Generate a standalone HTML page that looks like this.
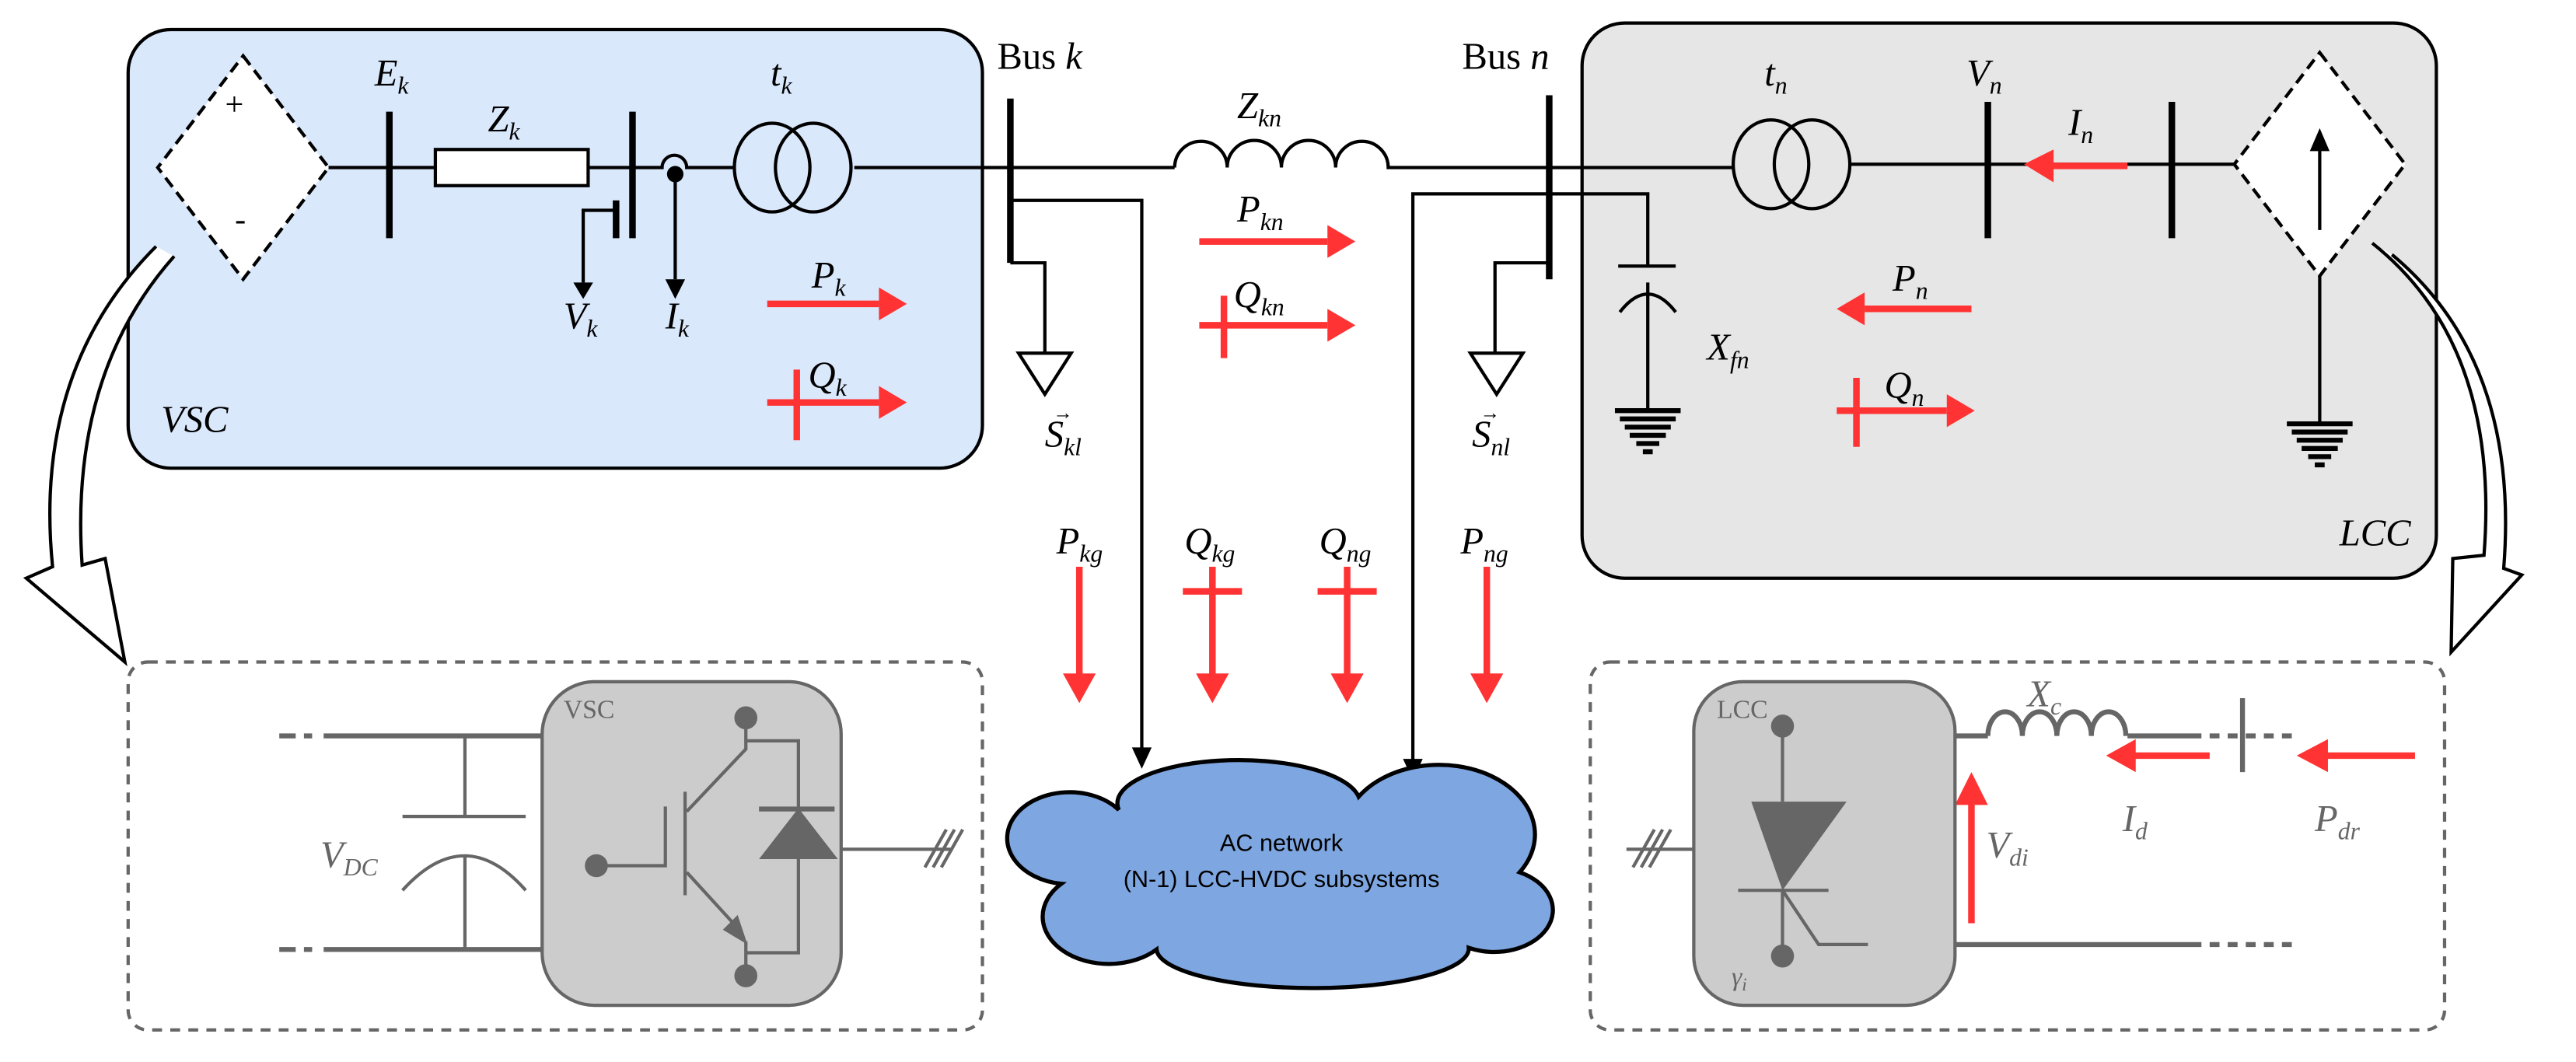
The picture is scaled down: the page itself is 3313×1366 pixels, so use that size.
<!DOCTYPE html>
<html><head><meta charset="utf-8"><style>
html,body{margin:0;padding:0;background:#fff;}
svg{display:block;}
.m{font-family:"Liberation Serif",serif;font-style:italic;font-size:23px;}
.s{font-size:15px;}
</style></head><body>
<svg width="3313" height="1366" viewBox="0 0 1568 646.5" xmlns="http://www.w3.org/2000/svg">
<g fill="none" stroke="#000" stroke-width="2">
<rect x="78" y="18" width="520" height="267" rx="26" fill="#dae8fc"/>
<rect x="963" y="14" width="520" height="338" rx="26" fill="#e6e6e6"/>
<path d="M148,34 L200,102 L148,170 L96,102Z" fill="#fff" stroke-dasharray="7,4"/>
<path d="M200,102 H265 M358,102 H403 A7,7 0 0 1 418,102 H447 M520,102 H715"/>
<path d="M715,102 a16,16 0 0 1 32,0 a16,16 0 0 1 33,0 a16,16 0 0 1 33,0 a16,16 0 0 1 32,0 H1055"/>
<path d="M1126,100 H1210 H1360"/>
<rect x="265" y="91" width="93" height="22" fill="#fff"/>
<ellipse cx="470" cy="102" rx="23" ry="27"/><ellipse cx="495" cy="102" rx="23" ry="27"/>
<ellipse cx="1078" cy="100" rx="23" ry="27"/><ellipse cx="1103" cy="100" rx="23" ry="27"/>
</g>
<g stroke="#000" stroke-width="4" fill="none">
<path d="M237,68V145 M385,68V145 M375,122V145 M615,60V160 M943,58V170 M1210,62V145 M1322,62V145"/>
</g>
<g fill="none" stroke="#000" stroke-width="2">
<path d="M375,128 H355 V172"/><path d="M411,106 V170"/>
<path d="M615,122 H695 V458"/><path d="M615,160 H636 V215"/>
<path d="M943,118 H860 V465"/><path d="M943,160 H910 V215"/>
<path d="M943,118 H1003 V162 M985,162 H1020 M986,190 Q1003,168 1020,190 M1003,172 V250"/>
<path d="M1412,168 V258"/>
<path d="M620,215 H652 L636,240Z"/><path d="M895,215 H927 L911,240Z"/>
<path d="M1412,32 L1464,100 L1412,168 L1360,100Z" fill="#fff" stroke-dasharray="7,4"/>
<path d="M1412,140 V88"/>
<path d="M95,150 Q20,225 32,345 L16,352 L76,403 L64,340 L50,344 Q42,228 106,156" fill="#fff"/>
<path d="M1444,148 Q1522,210 1512,338 L1493,340 L1492,397 L1535,350 L1524,346 Q1534,220 1456,155" fill="#fff"/>
</g>
<circle cx="411" cy="106" r="5"/>
<g fill="#000">
<path d="M349,172 H361 L355,182Z"/><path d="M405,170 H417 L411,182Z"/>
<path d="M689,455 H701 L695,468Z"/><path d="M854,462 H866 L860,475Z"/>
<path d="M1406,92 L1412,78 L1418,92Z"/>
</g>
<g stroke="#000" stroke-width="3">
<path d="M983,250H1023 M986,255H1020 M989,260H1017 M992,265H1014 M996,270H1010 M1000,275H1006"/>
<path d="M1392,258H1432 M1395,263H1429 M1398,268H1426 M1401,273H1423 M1405,278H1419 M1409,283H1415"/>
</g>
<g stroke="#f33" stroke-width="4" fill="#f33">
<path d="M467,185H535"/><path d="M535,175 L552,185 L535,195Z" stroke="none"/>
<path d="M467,245H535 M485,225V268"/><path d="M535,235 L552,245 L535,255Z" stroke="none"/>
<path d="M730,147H808"/><path d="M808,137 L825,147 L808,157Z" stroke="none"/>
<path d="M730,198H808 M745,180V218"/><path d="M808,188 L825,198 L808,208Z" stroke="none"/>
<path d="M1200,188H1135"/><path d="M1135,178 L1118,188 L1135,198Z" stroke="none"/>
<path d="M1118,250H1185 M1130,230V272"/><path d="M1185,240 L1202,250 L1185,260Z" stroke="none"/>
<path d="M1295,101H1248"/><path d="M1250,91 L1232,100 L1250,111Z" stroke="none"/>
<path d="M657,345V412"/><path d="M647,410 L657,428 L667,410Z" stroke="none"/>
<path d="M738,345V412 M720,360H756"/><path d="M728,410 L738,428 L748,410Z" stroke="none"/>
<path d="M820,345V412 M802,360H838"/><path d="M810,410 L820,428 L830,410Z" stroke="none"/>
<path d="M905,345V412"/><path d="M895,410 L905,428 L915,410Z" stroke="none"/>
<path d="M1200,562V488"/><path d="M1190,490 L1200,470 L1210,490Z" stroke="none"/>
<path d="M1345,460H1298"/><path d="M1300,450 L1282,460 L1300,470Z" stroke="none"/>
<path d="M1470,460H1415"/><path d="M1417,450 L1398,460 L1417,470Z" stroke="none"/>
</g>
<g fill="none" stroke="#666" stroke-width="2">
<rect x="78" y="403" width="520" height="224" rx="12" stroke-dasharray="6,5"/>
<rect x="968" y="403" width="520" height="224" rx="12" stroke-dasharray="6,5"/>
<rect x="330" y="415" width="182" height="197" rx="32" fill="#ccc"/>
<rect x="1031" y="415" width="159" height="197" rx="30" fill="#ccc"/>
<path d="M170,448H180 M185,448H190 M197,448H330 M170,578H180 M185,578H190 M197,578H330" stroke-width="3"/>
<path d="M283,448V497 M245,497H320 M245,542 Q283,500 320,542 M283,520V578"/>
<path d="M454,435V456 L418,494 M417,482V545 M405,491V527 H363 M418,531 L450,566 M454,573V594 M454,451H486V580H454V573"/>
<path d="M512,517H580 M563,528L576,505 M568,528L581,505 M573,528L586,505"/>
<path d="M1085,442V488 M1085,542V582 M1058,542H1113 M1085,542 L1107,575 H1137"/>
<path d="M1190,448H1210 M1295,448H1340 M1190,575H1340" stroke-width="3"/>
<path d="M1210,448 a10,14 0 0 1 21,0 a10,14 0 0 1 21,0 a10,14 0 0 1 21,0 a10,14 0 0 1 21,0" stroke-width="3"/>
<path d="M1345,448H1400 M1345,575H1400" stroke-width="3" stroke-dasharray="6,5"/>
<path d="M1365,425V470" stroke-width="3"/>
<path d="M990,517H1031 M994,528L1007,505 M999,528L1012,505 M1004,528L1017,505"/>
</g>
<g fill="#666">
<circle cx="454" cy="437" r="7"/><circle cx="454" cy="594" r="7"/><circle cx="363" cy="527" r="7"/>
<path d="M486,492 L462,523 H510Z"/><rect x="462" y="491" width="46" height="3"/>
<path d="M455,575 L440,566 L449,557Z"/>
<circle cx="1085" cy="442" r="7"/><circle cx="1085" cy="582" r="7"/>
<path d="M1066,488 H1124 L1085,542Z"/>
</g>
<path d="M681,493 A73,26 0 0 1 827,485 A55,40 0 0 1 925,531 A35,25 0 1 1 894,577 A95,24 0 0 1 704,578 A35,25 0 1 1 646,538 A38,28 0 1 1 681,493 Z" fill="#7ea6e0" stroke="#000" stroke-width="2.5"/>
<text x="780" y="518" text-anchor="middle" font-family="Liberation Sans,sans-serif" font-size="14.5">AC network</text>
<text x="780" y="540" text-anchor="middle" font-family="Liberation Sans,sans-serif" font-size="14.5">(N-1) LCC-HVDC subsystems</text>
<g class="m" fill="#000">
<text x="137" y="70" font-style="normal" font-size="20">+</text>
<text x="143" y="140" font-style="normal" font-size="20">-</text>
<text x="228" y="52">E<tspan class="s" dy="5">k</tspan></text>
<text x="297" y="80">Z<tspan class="s" dy="5">k</tspan></text>
<text x="469" y="52">t<tspan class="s" dy="5">k</tspan></text>
<text x="343" y="200">V<tspan class="s" dy="5">k</tspan></text>
<text x="405" y="200">I<tspan class="s" dy="5">k</tspan></text>
<text x="494" y="175">P<tspan class="s" dy="5">k</tspan></text>
<text x="492" y="236">Q<tspan class="s" dy="5">k</tspan></text>
<text x="98" y="263">VSC</text>
<text x="607" y="42" font-style="normal">Bus <tspan font-style="italic">k</tspan></text>
<text x="890" y="42" font-style="normal">Bus <tspan font-style="italic">n</tspan></text>
<text x="753" y="72">Z<tspan class="s" dy="5">kn</tspan></text>
<text x="753" y="135">P<tspan class="s" dy="5">kn</tspan></text>
<text x="751" y="187">Q<tspan class="s" dy="5">kn</tspan></text>
<text x="636" y="272">S<tspan class="s" dy="5">kl</tspan></text>
<text x="896" y="272">S<tspan class="s" dy="5">nl</tspan></text>
<text x="643" y="337">P<tspan class="s" dy="5">kg</tspan></text>
<text x="721" y="337">Q<tspan class="s" dy="5">kg</tspan></text>
<text x="803" y="337">Q<tspan class="s" dy="5">ng</tspan></text>
<text x="889" y="337">P<tspan class="s" dy="5">ng</tspan></text>
<text x="1074" y="52">t<tspan class="s" dy="5">n</tspan></text>
<text x="1197" y="52">V<tspan class="s" dy="5">n</tspan></text>
<text x="1259" y="82">I<tspan class="s" dy="5">n</tspan></text>
<text x="1152" y="177">P<tspan class="s" dy="5">n</tspan></text>
<text x="1147" y="242">Q<tspan class="s" dy="5">n</tspan></text>
<text x="1039" y="219">X<tspan class="s" dy="5">fn</tspan></text>
<text x="1424" y="332">LCC</text>
</g>
<g font-family="Liberation Serif,serif" font-size="12" fill="#000"><text x="641" y="255">→</text><text x="901" y="255">→</text></g>
<g class="m" fill="#666">
<text x="195" y="528">V<tspan class="s" dy="5">DC</tspan></text>
<text x="343" y="437" font-style="normal" font-size="16">VSC</text>
<text x="1045" y="437" font-style="normal" font-size="16">LCC</text>
<text x="1054" y="600" font-size="16">γ<tspan font-size="11" dy="3">i</tspan></text>
<text x="1234" y="430">X<tspan class="s" dy="5">c</tspan></text>
<text x="1209" y="522">V<tspan class="s" dy="5">di</tspan></text>
<text x="1292" y="506">I<tspan class="s" dy="5">d</tspan></text>
<text x="1409" y="506">P<tspan class="s" dy="5">dr</tspan></text>
</g>
</svg>
</body></html>
